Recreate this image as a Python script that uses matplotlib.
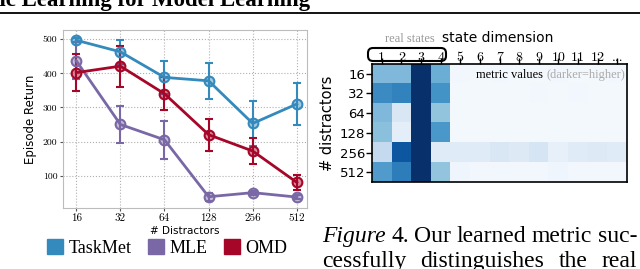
import numpy as np
import matplotlib
matplotlib.use("Agg")
import matplotlib.pyplot as plt
from matplotlib.colors import to_rgba
from matplotlib.patches import FancyBboxPatch, Patch
from matplotlib.transforms import IdentityTransform

# left panel data
distractors = ['16', '32', '64', '128', '256', '512']
taskmet = [497, 463, 388, 378, 253, 310]
taskmet_err = [6, 35, 48, 52, 65, 63]
mle = [437, 250, 205, 38, 50, 37]
mle_err = [55, 54, 55, 12, 6, 6]
omd = [402, 421, 340, 220, 172, 80]
omd_err = [55, 60, 48, 47, 37, 23]
methods = ['TaskMet', 'MLE', 'OMD']
colors = ['#348ABD', '#7A68A6', '#A60628']
yticks = [100, 200, 300, 400, 500]

# right panel data (metric values, darker = higher)
state_labels = ['1', '2', '3', '4', '5', '6', '7', '8', '9', '10', '11', '12', '...']
row_labels = ['16', '32', '64', '128', '256', '512']
metric = np.array([
    [0.45, 0.45, 1.0, 0.50, 0.03, 0.02, 0.03, 0.02, 0.02, 0.03, 0.02, 0.02, 0.03],
    [0.65, 0.68, 1.0, 0.62, 0.02, 0.02, 0.02, 0.02, 0.03, 0.02, 0.03, 0.02, 0.02],
    [0.45, 0.15, 1.0, 0.40, 0.02, 0.02, 0.02, 0.02, 0.02, 0.02, 0.02, 0.02, 0.02],
    [0.42, 0.10, 1.0, 0.60, 0.02, 0.02, 0.02, 0.02, 0.02, 0.02, 0.02, 0.02, 0.02],
    [0.25, 0.85, 1.0, 0.12, 0.12, 0.12, 0.15, 0.13, 0.17, 0.08, 0.12, 0.13, 0.12],
    [0.58, 0.70, 1.0, 0.40, 0.04, 0.03, 0.03, 0.03, 0.03, 0.04, 0.03, 0.03, 0.03],
])

caption1 = ['Figure', '4.', 'Our', 'learned', 'metric', 'suc-']
caption2 = ['cessfully', 'distinguishes', 'the', 'real']

W, H = 640, 269
fig = plt.figure(figsize=(6.4, 2.69), dpi=100)
renderer = fig.canvas.get_renderer()


def px(x0, y0, x1, y1):
    return [x0 / W, 1 - y1 / H, (x1 - x0) / W, (y1 - y0) / H]


def width(t):
    return t.get_window_extent(renderer).width


def justify(words, y, x0, x1, **kw):
    texts = [fig.text(0, 1 - y / H, w, ha='left', va='baseline', **kw) for w in words]
    if words[0] == 'Figure':
        texts[0].set_style('italic')
    widths = [width(t) for t in texts]
    gap = (x1 - x0 - sum(widths)) / (len(texts) - 1)
    xpos = x0
    for t, wd in zip(texts, widths):
        t.set_x(xpos / W)
        xpos += wd + gap


# ---- header ----
fig.text(310 / W, 1 - 6 / H, 'Metric Learning for Model Learning', ha='right', va='baseline',
         fontsize=16.5, fontweight='bold', family='Liberation Serif')
fig.add_artist(plt.Line2D([0, 1], [1 - 12.5 / H] * 2, color='black', lw=1.3))

# ---- left panel ----
ax = fig.add_axes(px(63, 30, 307, 208))
x = np.arange(len(distractors))
for vals, err, c in zip([taskmet, mle, omd], [taskmet_err, mle_err, omd_err], colors):
    ax.errorbar(x, vals, yerr=err, color=c, lw=2, capsize=3, capthick=1.5, elinewidth=1.5,
                marker='o', ms=7, mfc=to_rgba(c, 0.45), mec=c, mew=1.5)
ax.set_xlim(-0.3, 5.23)
ax.set_ylim(5, 527)
ax.set_xticks(x)
ax.set_xticklabels(distractors, fontsize=8, family='cmr10')
ax.set_yticks(yticks)
ax.set_yticklabels([str(v) for v in yticks], fontsize=7, family='cmr10')
ax.grid(True, ls=':', color='#b0b0b0', lw=0.8)
ax.tick_params(length=2, width=0.8, color='#555555', pad=2)
for s in ax.spines.values():
    s.set_color('#bcbcbc')
ax.set_ylabel('Episode Return', fontsize=8.5, labelpad=4)
fig.text(185 / W, 1 - 231 / H, '# Distractors', ha='center', va='center', fontsize=7.5)

handles = [Patch(color=c) for c in colors]
fig.legend(handles, methods, loc='center', bbox_to_anchor=(167 / W, 1 - 248 / H), ncol=3,
           frameon=False, handlelength=0.9, handleheight=0.9, handletextpad=0.3,
           columnspacing=0.9, prop={'family': 'Liberation Serif', 'size': 13})

# ---- right panel ----
ax2 = fig.add_axes(px(372, 64, 627, 182))
ax2.imshow(metric, cmap='Blues', vmin=0, vmax=1, aspect='auto', interpolation='nearest')
ax2.xaxis.tick_top()
ax2.set_xticks(np.arange(len(state_labels)))
ax2.set_xticklabels(state_labels, fontsize=10, family='cmr10')
ax2.set_yticks(np.arange(len(row_labels)))
ax2.set_yticklabels(row_labels, fontsize=9.5)
ax2.tick_params(length=4, width=1, pad=1)
ax2.tick_params(axis='x', pad=-4)
for s in ax2.spines.values():
    s.set_linewidth(1.2)
ax2.set_ylabel('# distractors', fontsize=10.5, labelpad=3)

# rounded box round the real-state labels (figure pixels, origin bottom-left)
box = FancyBboxPatch((368, H - 61), 78, 13, boxstyle='round,pad=0,rounding_size=5',
                     transform=IdentityTransform(), fill=False, lw=1.5, ec='black')
fig.add_artist(box)
fig.text(410 / W, 1 - 39 / H, 'real states', ha='center', va='center', fontsize=9,
         color='#999999', family='Liberation Serif')
fig.text(498 / W, 1 - 38 / H, 'state dimension', ha='center', va='center', fontsize=10)

t_dark = fig.text(625 / W, 1 - 75 / H, '(darker=higher)', ha='right', va='center', fontsize=9,
                  color='#aaaaaa', family='Liberation Serif')
fig.text((625 - width(t_dark) - 3) / W, 1 - 75 / H, 'metric values', ha='right', va='center',
         fontsize=9, family='Liberation Serif')

# ---- caption (justified lines) ----
justify(caption1, 242, 322, 637, fontsize=17, family='Liberation Serif')
justify(caption2, 267, 322, 637, fontsize=17, family='Liberation Serif')

fig.savefig('out.png', dpi=100)
